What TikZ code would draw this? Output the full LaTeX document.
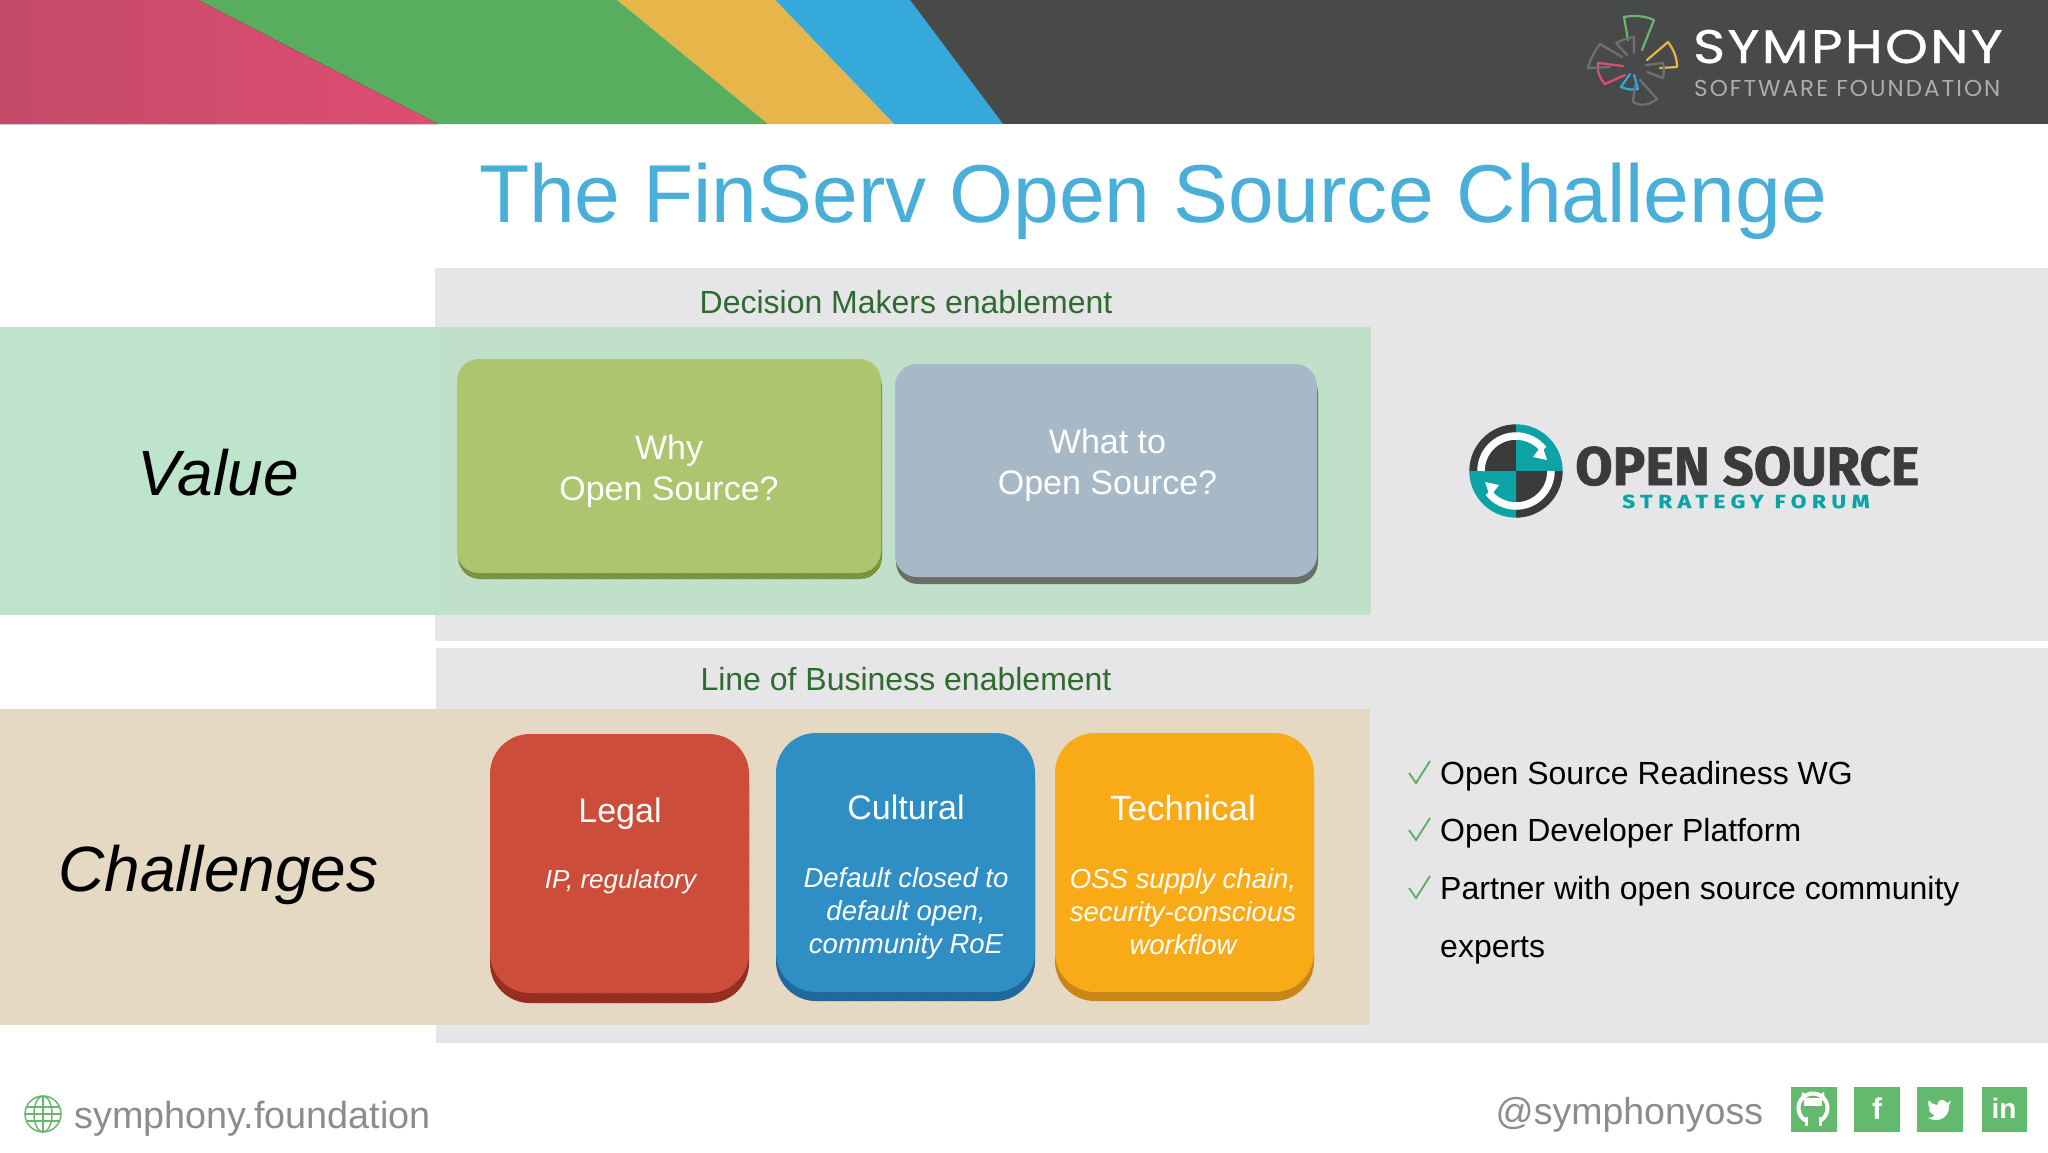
\documentclass[tikz,border=0pt]{standalone}
\usepackage{fontspec}
\setmainfont{Liberation Sans}
\newfontfamily\popspaced[LetterSpace=5,FakeBold=0.8,FakeStretch=1.16]{Poppins}
\newfontfamily\poplight[LetterSpace=9]{Poppins}
\newfontfamily\firafont[FakeBold=1.2]{Fira Sans}
\newfontfamily\firaspaced[LetterSpace=29,FakeStretch=1.2,FakeBold=0.5]{Fira Sans}
\usetikzlibrary{patterns}
\newcommand{\fsz}[1]{\fontsize{#1}{#1}\selectfont}
\definecolor{hdpink}{HTML}{DE4E72}
\definecolor{hdpinkd}{HTML}{C44A68}
\definecolor{hdgreen}{HTML}{58AE5E}
\definecolor{hdyellow}{HTML}{E8B54A}
\definecolor{hdblue}{HTML}{35A9DA}
\definecolor{hddark}{HTML}{484A49}
\definecolor{bladegrey}{HTML}{707070}
\definecolor{titleblue}{HTML}{4AAFD8}
\definecolor{panelgrey}{HTML}{E6E5E8}
\definecolor{bandgreen}{HTML}{BEE5CC}
\definecolor{bandgreenb}{HTML}{C1E0CA}
\definecolor{bandtan}{HTML}{E5D9C4}
\definecolor{headgreen}{HTML}{2F6B2E}
\definecolor{footgrey}{HTML}{8C8C90}
\definecolor{icongreen}{HTML}{63B96E}
\definecolor{checkgreen}{HTML}{5CAD5F}
\definecolor{ossdark}{HTML}{3C3B3B}
\definecolor{ossteal}{HTML}{0BA3A6}
\definecolor{whyface}{HTML}{ADC56F}
\definecolor{whyside}{HTML}{8BA847}
\definecolor{whatface}{HTML}{A7B8C7}
\definecolor{whatside}{HTML}{696E67}
\definecolor{redface}{HTML}{CC4E3A}
\definecolor{redside}{HTML}{A93426}
\definecolor{blueface}{HTML}{2F8FC5}
\definecolor{blueside}{HTML}{2472AB}
\definecolor{orangeface}{HTML}{F8AB17}
\definecolor{orangeside}{HTML}{D9901A}
\tikzset{
  x=1pt,y=-1pt,
  facebox/.style={rounded corners=#1,inner sep=0pt,draw=none},
  hatched/.style={postaction={pattern=north east lines,pattern color=#1}},
  txt/.style={anchor=base,inner sep=0pt,text=white},
  listitem/.style={anchor=base west,inner sep=0pt,text=black,font=\fsz{32}},
  checkmark/.style={draw=checkgreen,line width=1.8pt,line join=miter},
  blade/.style={line width=2.2pt,line join=round,line cap=round},
}
\begin{document}
\begin{tikzpicture}
\useasboundingbox (0,0) rectangle (2048,1152);
% header
\fill[hddark] (900,0) rectangle (2048,124);
\fill[hdblue] (775,0) -- (910,0) -- (1003,124) -- (894,124) -- cycle;
\fill[hdyellow] (617,0) -- (775,0) -- (894,124) -- (768,124) -- cycle;
\fill[hdgreen] (198,0) -- (617,0) -- (768,124) -- (438,124) -- cycle;
\fill[left color=hdpinkd,right color=hdpink] (0,0) -- (198,0) -- (438,124) -- (0,124) -- cycle;
% symphony logo
\begin{scope}[blade]
\draw[draw=checkgreen!90!white] (1628,40) -- (1624,17) .. controls (1634,15) and (1646,16) .. (1654,20) -- (1642,50);
\draw[draw=hdyellow] (1647,60) -- (1668,42) .. controls (1674,50) and (1677,58) .. (1677,67) -- (1660,68);
\draw[draw=hdpink] (1623,66) -- (1598,63) .. controls (1597,72) and (1600,79) .. (1605,84) -- (1625,75);
\draw[draw=hdblue] (1630,74) -- (1621,87) .. controls (1628,90) and (1634,90) .. (1638,89) -- (1634,75);
\draw[draw=bladegrey] (1622,57) -- (1600,44) .. controls (1594,52) and (1590,60) .. (1588,68) -- (1610,67);
\draw[draw=bladegrey] (1627,55) -- (1616,43) .. controls (1622,40) and (1628,38) .. (1634,37) -- (1634,53);
\draw[draw=bladegrey] (1646,65) -- (1663,63) .. controls (1664,68) and (1664,74) .. (1663,78) -- (1647,72);
\draw[draw=bladegrey] (1635,85) -- (1633,102) .. controls (1640,106) and (1648,106) .. (1657,99) -- (1640,80);
\end{scope}
\node[anchor=base west,inner sep=0pt,text=white] (symph) at (1693,63) {\popspaced\fsz{47}SYMPHONY};
\node[anchor=base west,inner sep=0pt,text=white!68!black] (sfound) at (1694,96) {\poplight\fsz{23}SOFTWARE FOUNDATION};
% title
\node[anchor=base,inner sep=0pt,text=titleblue] (title) at (1153,222) {\fsz{82.2}The FinServ Open Source Challenge};
% panels
\fill[panelgrey] (435,268) rectangle (2048,641);
\fill[panelgrey] (436,648) rectangle (2048,1043);
\fill[bandgreen] (0,327) rectangle (436,615);
\fill[bandgreenb] (435,327) rectangle (1371,615);
\fill[bandtan] (0,709) rectangle (1370,1025);
\node[txt,text=headgreen,font=\fsz{32}] (dm) at (906,313) {Decision Makers enablement};
\node[txt,text=headgreen,font=\fsz{32}] (lob) at (906,690) {Line of Business enablement};
\node[txt,text=black,font=\fsz{64}\itshape] (value) at (218,495) {Value};
\node[txt,text=black,font=\fsz{64}\itshape] (chal) at (218.5,891) {Challenges};
% value boxes
\node[facebox=22pt,minimum width=424pt,minimum height=214pt,fill=whyside,hatched=whyside!65!black] (whys) at (670,472) {};
\node[facebox=22pt,minimum width=424pt,minimum height=214pt,fill=whyface] (why) at (669,466) {};
\node[facebox=22pt,minimum width=422pt,minimum height=213pt,fill=whatside] (whats) at (1107,477.5) {};
\node[facebox=22pt,minimum width=422pt,minimum height=213pt,fill=whatface] (what) at (1106,470.5) {};
\node[txt,font=\fsz{34}] (why1) at (669,459) {Why};
\node[txt,font=\fsz{34}] (why2) at (669,500) {Open Source?};
\node[txt,font=\fsz{34}] (what1) at (1107.5,453.5) {What to};
\node[txt,font=\fsz{34}] (what2) at (1107.5,494) {Open Source?};
% challenge boxes
\node[facebox=40pt,minimum width=259pt,minimum height=259pt,fill=redside,hatched=redside!70!black] (legals) at (619.5,873.5) {};
\node[facebox=40pt,minimum width=259pt,minimum height=259pt,fill=redface] (legal) at (619.5,863.5) {};
\node[facebox=40pt,minimum width=259pt,minimum height=259pt,fill=blueside,hatched=blueside!75!black] (cults) at (905.5,871.5) {};
\node[facebox=40pt,minimum width=259pt,minimum height=259pt,fill=blueface] (cult) at (905.5,862.5) {};
\node[facebox=40pt,minimum width=259pt,minimum height=259pt,fill=orangeside,hatched=orangeside!80!black] (techs) at (1184.5,871.5) {};
\node[facebox=40pt,minimum width=259pt,minimum height=259pt,fill=orangeface] (tech) at (1184.5,862.5) {};
\node[txt,font=\fsz{34}] (lt) at (620,822) {Legal};
\node[txt,font=\fsz{26}\itshape] (ls) at (620.5,888) {IP, regulatory};
\node[txt,font=\fsz{34}] (ct) at (906,819) {Cultural};
\node[txt,font=\fsz{27.5}\itshape] (c1) at (906,887) {Default closed to};
\node[txt,font=\fsz{27.5}\itshape] (c2) at (906,920) {default open,};
\node[txt,font=\fsz{27.5}\itshape] (c3) at (906,953.5) {community RoE};
\node[txt,font=\fsz{35}] (tt) at (1183,820) {Technical};
\node[txt,font=\fsz{27.5}\itshape] (t1) at (1183,888) {OSS supply chain,};
\node[txt,font=\fsz{27.5}\itshape] (t2) at (1183,921) {security-conscious};
\node[txt,font=\fsz{27.5}\itshape] (t3) at (1183,954.5) {workflow};
% oss logo
\fill[ossdark] (1516,471) -- (1469.3,471) arc[start angle=180,end angle=90,radius=46.7pt] -- cycle;
\fill[ossteal] (1516,471) -- (1516,424.3) arc[start angle=90,end angle=0,radius=46.7pt] -- cycle;
\fill[ossdark] (1516,471) -- (1562.7,471) arc[start angle=0,end angle=-90,radius=46.7pt] -- cycle;
\fill[ossteal] (1516,471) -- (1516,517.7) arc[start angle=-90,end angle=-180,radius=46.7pt] -- cycle;
\draw[white,line width=7.5pt] (1481,471) arc[start angle=180,end angle=38,radius=35pt];
\draw[white,line width=7.5pt] (1551,471) arc[start angle=0,end angle=-142,radius=35pt];
\fill[white] (1547,460) -- (1542,445) -- (1533,457) -- cycle;
\fill[white] (1485,482) -- (1490,497) -- (1499,485) -- cycle;
\node[anchor=base west,inner sep=0pt,text=ossdark] (ossname) at (1575,485) {\firafont\bfseries\fsz{54.3}OPEN SOURCE};
\node[anchor=base west,inner sep=0pt,text=ossteal] (ossforum) at (1622,508) {\firaspaced\bfseries\fsz{19}STRATEGY FORUM};
% list
\node[listitem] (l1) at (1440,784) {Open Source Readiness WG};
\node[listitem] (l2) at (1440,841) {Open Developer Platform};
\node[listitem] (l3) at (1440,899) {Partner with open source community};
\node[listitem] (l4) at (1440,957) {experts};
\draw[checkmark] (1409,773) -- (1416,783) -- (1430,761);
\draw[checkmark] (1409,830) -- (1416,840) -- (1430,818);
\draw[checkmark] (1409,888) -- (1416,898) -- (1430,876);
% footer
\begin{scope}[draw=checkgreen!90!white,line width=1.5pt]
\draw (43,1114) circle[radius=18pt];
\draw (43,1114) ellipse[x radius=9pt,y radius=18pt];
\draw (25,1114) -- (61,1114);
\draw (43,1096) -- (43,1132);
\draw (26.4,1107) -- (59.6,1107);
\draw (26.4,1121) -- (59.6,1121);
\end{scope}
\node[anchor=base west,inner sep=0pt,text=footgrey,font=\fsz{37.8}] (site) at (74,1128) {symphony.foundation};
\node[anchor=base west,inner sep=0pt,text=footgrey,font=\fsz{37.5}] (handle) at (1495.5,1124) {@symphonyoss};
\fill[icongreen] (1791,1087) rectangle (1837,1132);
\fill[icongreen] (1854,1087) rectangle (1900,1132);
\fill[icongreen] (1917,1087) rectangle (1963,1132);
\fill[icongreen] (1982,1087) rectangle (2027,1132);
% github
\draw[white,line width=4pt] (1813,1108) circle[radius=14.5pt];
\fill[white] (1801,1100) -- (1802,1092) -- (1809,1096) -- cycle;
\fill[white] (1825,1100) -- (1824,1092) -- (1817,1096) -- cycle;
\fill[white] (1804,1098) rectangle (1822,1106);
\fill[icongreen] (1806.5,1116) rectangle (1819.5,1132);
\fill[white] (1804.5,1117) rectangle (1807.5,1126);
\fill[white] (1818.5,1117) rectangle (1821.5,1126);
% f, bird, in
\node[txt,font=\fsz{30}\bfseries] (fb) at (1877,1119) {f};
\fill[white] (1951,1101) -- (1947,1103) .. controls (1944,1098) and (1938,1099) .. (1937,1105) .. controls (1934,1105) and (1931,1103) .. (1929,1100) .. controls (1927,1104) and (1929,1108) .. (1931,1109) -- (1929,1108.5) .. controls (1929,1112) and (1932,1114) .. (1934,1115) .. controls (1934,1117) .. (1928,1118) .. controls (1940,1124) and (1950,1116) .. (1949,1105) -- cycle;
\node[txt,font=\fsz{28}\bfseries] (li) at (2004,1118) {in};
\end{tikzpicture}
\end{document}
